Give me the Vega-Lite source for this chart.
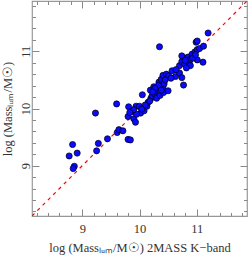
{
  "$schema": "https://vega.github.io/schema/vega-lite/v6.json",
  "autosize": "none",
  "width": 215,
  "height": 215,
  "padding": {"left": 32, "top": 1, "right": 2, "bottom": 39},
  "background": "white",
  "config": {
    "view": {"stroke": "#999999", "strokeWidth": 1.2},
    "axis": {
      "domain": false,
      "grid": false,
      "tickColor": "#888888",
      "tickWidth": 1,
      "labelFont": "Liberation Serif",
      "labelFontSize": 12.5,
      "labelColor": "#333333",
      "titleFont": "Liberation Serif",
      "titleFontSize": 12.5,
      "titleFontWeight": "normal",
      "titleColor": "#333333"
    }
  },
  "datasets": {
    "pts": [
      {"xk": 8.77, "yl": 9.17}, {"xk": 8.83, "yl": 9.37}, {"xk": 8.91, "yl": 9.22}, {"xk": 8.86, "yl": 8.99},
      {"xk": 8.84, "yl": 8.95}, {"xk": 9.23, "yl": 9.92}, {"xk": 9.25, "yl": 9.26}, {"xk": 9.28, "yl": 9.39},
      {"xk": 9.44, "yl": 9.47}, {"xk": 9.60, "yl": 10.08}, {"xk": 9.61, "yl": 9.58}, {"xk": 9.64, "yl": 9.63},
      {"xk": 9.71, "yl": 9.61}, {"xk": 9.80, "yl": 9.46}, {"xk": 9.84, "yl": 9.45}, {"xk": 9.81, "yl": 10.03},
      {"xk": 9.80, "yl": 9.86}, {"xk": 9.87, "yl": 9.95}, {"xk": 9.90, "yl": 9.82}, {"xk": 9.93, "yl": 9.76},
      {"xk": 9.94, "yl": 10.04}, {"xk": 10.00, "yl": 10.04}, {"xk": 10.02, "yl": 9.92}, {"xk": 10.08, "yl": 9.96},
      {"xk": 10.05, "yl": 10.24}, {"xk": 10.13, "yl": 10.04}, {"xk": 9.95, "yl": 9.90}, {"xk": 10.15, "yl": 10.11},
      {"xk": 10.20, "yl": 10.18}, {"xk": 10.19, "yl": 10.32}, {"xk": 10.22, "yl": 10.22}, {"xk": 10.26, "yl": 10.26},
      {"xk": 10.29, "yl": 10.32}, {"xk": 10.25, "yl": 10.38}, {"xk": 10.30, "yl": 10.18}, {"xk": 10.34, "yl": 10.46},
      {"xk": 10.38, "yl": 10.51}, {"xk": 10.41, "yl": 10.38}, {"xk": 10.43, "yl": 10.43}, {"xk": 10.36, "yl": 10.23},
      {"xk": 10.42, "yl": 10.28}, {"xk": 10.50, "yl": 10.31}, {"xk": 10.35, "yl": 11.08}, {"xk": 10.41, "yl": 10.58},
      {"xk": 10.47, "yl": 10.60}, {"xk": 10.51, "yl": 10.57}, {"xk": 10.57, "yl": 10.66}, {"xk": 10.63, "yl": 10.56},
      {"xk": 10.70, "yl": 10.62}, {"xk": 10.74, "yl": 10.54}, {"xk": 10.77, "yl": 10.41}, {"xk": 10.70, "yl": 10.75},
      {"xk": 10.74, "yl": 10.82}, {"xk": 10.79, "yl": 10.78}, {"xk": 10.81, "yl": 10.88}, {"xk": 10.74, "yl": 10.92},
      {"xk": 10.85, "yl": 10.90}, {"xk": 10.87, "yl": 10.81}, {"xk": 10.89, "yl": 10.75}, {"xk": 10.92, "yl": 10.95},
      {"xk": 10.97, "yl": 10.99}, {"xk": 11.01, "yl": 11.03}, {"xk": 10.99, "yl": 11.16}, {"xk": 11.01, "yl": 11.18},
      {"xk": 11.05, "yl": 11.05}, {"xk": 11.12, "yl": 11.09}, {"xk": 11.01, "yl": 10.85}, {"xk": 11.11, "yl": 10.81},
      {"xk": 11.20, "yl": 11.32}, {"xk": 10.89, "yl": 10.86}, {"xk": 10.82, "yl": 10.71}, {"xk": 10.33, "yl": 10.40},
      {"xk": 10.45, "yl": 10.50}, {"xk": 10.27, "yl": 10.35}, {"xk": 10.10, "yl": 10.06}, {"xk": 10.18, "yl": 10.13},
      {"xk": 9.90, "yl": 9.98}, {"xk": 9.83, "yl": 9.93}, {"xk": 10.64, "yl": 10.68}, {"xk": 10.55, "yl": 10.53},
      {"xk": 10.93, "yl": 10.88}, {"xk": 10.98, "yl": 10.94}, {"xk": 10.80, "yl": 10.84}, {"xk": 10.38, "yl": 10.32},
      {"xk": 10.04, "yl": 9.99}, {"xk": 10.23, "yl": 10.29}
    ],
    "diag": [
      {"xk": 8.12, "yl": 8.12},
      {"xk": 11.88, "yl": 11.88}
    ]
  },
  "layer": [
    {
      "data": {"name": "diag"},
      "mark": {"type": "line", "color": "#ff0000", "strokeWidth": 1.2, "strokeDash": [3.5, 4], "clip": true},
      "encoding": {
        "x": {"field": "xk", "type": "quantitative",
          "scale": {"domain": [8.12, 11.88], "nice": false, "zero": false},
          "axis": {"orient": "top", "values": [8.2,8.4,8.6,8.8,9,9.2,9.4,9.6,9.8,10,10.2,10.4,10.6,10.8,11,11.2,11.4,11.6,11.8],
            "labels": false, "title": null,
            "tickSize": {"condition": {"test": "abs(datum.value - round(datum.value)) < 0.01", "value": -7}, "value": -3.5}}},
        "y": {"field": "yl", "type": "quantitative",
          "scale": {"domain": [8.12, 11.88], "nice": false, "zero": false},
          "axis": {"orient": "right", "values": [8.2,8.4,8.6,8.8,9,9.2,9.4,9.6,9.8,10,10.2,10.4,10.6,10.8,11,11.2,11.4,11.6,11.8],
            "labels": false, "title": null,
            "tickSize": {"condition": {"test": "abs(datum.value - round(datum.value)) < 0.01", "value": -7}, "value": -3.5}}}
      }
    },
    {
      "data": {"name": "pts"},
      "mark": {"type": "point", "filled": true, "fill": "#0a0aff", "stroke": "#000000", "strokeWidth": 0.7, "opacity": 1, "size": 38, "clip": true},
      "encoding": {
        "x": {"field": "xk", "type": "quantitative",
          "scale": {"domain": [8.12, 11.88], "nice": false, "zero": false},
          "axis": {"orient": "bottom", "values": [8.2,8.4,8.6,8.8,9,9.2,9.4,9.6,9.8,10,10.2,10.4,10.6,10.8,11,11.2,11.4,11.6,11.8],
            "labelExpr": "abs(datum.value - round(datum.value)) < 0.01 ? format(datum.value, 'd') : ''",
            "labelPadding": 13,
            "title": "log (Massₗᵤₘ/M☉) 2MASS K−band",
            "titlePadding": 7,
            "tickSize": {"condition": {"test": "abs(datum.value - round(datum.value)) < 0.01", "value": -7}, "value": -3.5}}},
        "y": {"field": "yl", "type": "quantitative",
          "scale": {"domain": [8.12, 11.88], "nice": false, "zero": false},
          "axis": {"orient": "left", "values": [8.2,8.4,8.6,8.8,9,9.2,9.4,9.6,9.8,10,10.2,10.4,10.6,10.8,11,11.2,11.4,11.6,11.8],
            "labelExpr": "abs(datum.value - round(datum.value)) < 0.01 ? format(datum.value, 'd') : ''",
            "labelAngle": -90, "labelAlign": "center", "labelBaseline": "bottom",
            "labelPadding": 7,
            "title": "log (Massₗᵤₘ/M☉)",
            "titlePadding": 5,
            "tickSize": {"condition": {"test": "abs(datum.value - round(datum.value)) < 0.01", "value": -7}, "value": -3.5}}}
      }
    }
  ],
  "resolve": {"axis": {"x": "independent", "y": "independent"}}
}
